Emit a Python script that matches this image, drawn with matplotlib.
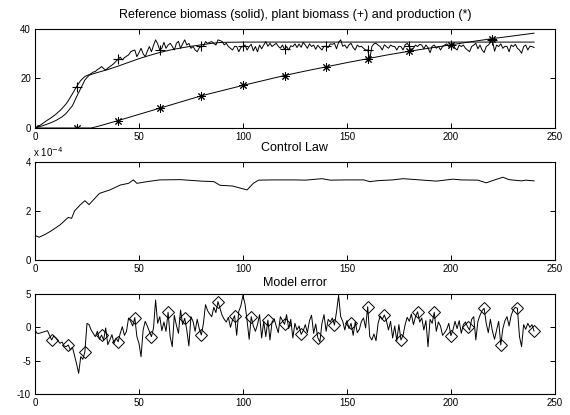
import matplotlib
matplotlib.use('Agg')
import matplotlib.pyplot as plt
import numpy as np

plt.rcParams['font.family'] = ['Liberation Sans', 'DejaVu Sans']
plt.rcParams['axes.unicode_minus'] = False

# --- panel 1: reference biomass, plant biomass, production ---
ref_x = [0, 4, 7, 10, 13, 15, 18, 20, 22, 24, 26, 28, 30, 35, 40, 45, 50, 55, 60,
         65, 70, 75, 80, 85, 90, 100, 150, 200, 240]
ref_y = [0, 1.0, 1.9, 3.0, 4.5, 5.9, 9.0, 12.6, 16.0, 19.4, 21.3, 21.9, 22.4, 23.6,
         25.0, 26.5, 28.0, 29.3, 30.5, 31.5, 32.3, 33.0, 33.6, 34.2, 34.6, 34.7,
         34.7, 34.7, 34.7]

plant = [
    0.0, 0.4, 0.9, 1.4, 2.0, 2.6, 3.2, 3.7, 4.3, 4.9,
    5.5, 6.3, 7.0, 7.9, 8.8, 9.8, 11.0, 12.4, 13.8, 15.3,
    16.7, 18.0, 19.2, 20.0, 20.8, 21.2, 21.5, 22.0, 22.6, 22.8,
    23.6, 24.1, 24.8, 24.0, 23.4, 24.2, 24.8, 25.4, 26.1, 27.0,
    27.8, 28.6, 27.5, 28.4, 29.0, 29.5, 30.8, 31.2, 31.5, 28.8,
    30.4, 32.2, 30.0, 28.8, 31.0, 32.9, 30.8, 33.4, 35.6, 34.0,
    31.5, 32.2, 34.6, 32.2, 33.5, 34.2, 33.0, 31.5, 34.2, 35.0,
    32.2, 34.0, 35.6, 33.5, 34.2, 32.2, 32.9, 31.5, 30.8, 32.4,
    33.0, 33.0, 34.9, 34.2, 34.6, 34.9, 34.2, 33.5, 35.6, 35.3,
    34.9, 33.6, 34.2, 32.9, 32.2, 31.5, 33.0, 32.9, 30.8, 32.5,
    33.0, 33.5, 31.5, 32.9, 33.8, 31.2, 32.9, 30.8, 33.5, 32.0,
    33.5, 34.9, 33.0, 34.2, 32.9, 33.6, 34.2, 33.0, 32.2, 33.5,
    31.8, 32.9, 31.5, 33.2, 32.9, 34.0, 32.5, 33.9, 32.6, 34.6,
    33.5, 32.2, 34.0, 32.9, 33.5, 31.8, 33.4, 32.4, 31.5, 33.0,
    33.0, 32.5, 34.0, 33.8, 34.2, 32.0, 34.6, 35.6, 33.0, 33.5,
    32.2, 33.6, 34.2, 32.5, 31.5, 33.5, 32.8, 33.0, 32.2, 31.5,
    31.5, 27.8, 32.9, 34.0, 34.2, 33.5, 32.9, 31.5, 33.6, 32.9,
    32.2, 33.5, 33.0, 32.9, 31.5, 33.0, 32.9, 31.5, 33.6, 34.2,
    33.0, 31.0, 32.2, 33.5, 32.9, 33.8, 33.5, 32.0, 33.5, 32.5,
    30.4, 33.0, 33.5, 32.2, 33.0, 31.5, 32.9, 33.5, 34.0, 32.9,
    33.5, 34.2, 32.2, 31.5, 33.5, 32.9, 33.5, 32.2, 31.5, 30.8,
    32.9, 33.5, 34.2, 32.0, 33.5, 31.5, 30.5, 32.9, 33.5, 34.5,
    35.5, 31.0, 33.5, 32.9, 34.0, 32.2, 33.0, 32.9, 30.8, 33.5,
    32.9, 33.8, 32.2, 31.5, 30.2, 32.9, 33.5, 31.5, 33.0, 32.9,
    32.5]

prod_x = [0, 10, 20, 27, 30, 40, 50, 60, 70, 80, 90, 100, 110, 120, 130, 140,
          150, 160, 170, 180, 190, 200, 210, 220, 230, 240]
prod_y = [0, 0, 0, 0, 0.6, 3.0, 5.5, 8.0, 10.5, 13.0, 15.1, 17.2, 19.2, 21.2,
          23.0, 24.7, 26.4, 28.0, 29.6, 31.0, 32.3, 33.6, 34.9, 36.1, 37.2, 38.3]

# --- panel 2: control law (x 1e-4) ---
ctrl_x = [0, 2, 5, 8, 12, 16, 17.6, 19, 21.6, 24, 26, 28.8, 31, 36, 41, 45, 47.3,
          49, 54, 60, 70, 80, 86, 89, 95, 102, 105, 107.5, 115, 125, 130, 138, 142,
          150, 158, 161, 165, 172, 177, 185, 193, 197, 201, 205, 213, 217, 220,
          225, 228, 234, 236, 240]
ctrl_y = [1.0, 0.93, 1.05, 1.2, 1.43, 1.74, 1.70, 2.0, 2.24, 2.42, 2.26, 2.52, 2.72,
          2.86, 3.06, 3.13, 3.27, 3.13, 3.2, 3.27, 3.28, 3.22, 3.2, 3.05, 3.02, 2.86,
          3.13, 3.26, 3.27, 3.27, 3.26, 3.32, 3.26, 3.27, 3.27, 3.20, 3.24, 3.27,
          3.32, 3.27, 3.22, 3.26, 3.30, 3.27, 3.26, 3.15, 3.24, 3.38, 3.28, 3.23,
          3.26, 3.23]

# --- panel 3: model error ---
err = [
    -0.4, -0.9, -0.9, -0.8, -0.7, -0.6, -0.5, -1.2, -1.9, -1.3,
    -1.6, -2.0, -2.4, -2.2, -2.8, -2.9, -2.65, -3.4, -3.0, -4.2,
    -5.5, -6.9, -4.4, -4.8, -3.65, 0.6, 0.4, -0.4, -0.9, -1.4,
    -0.6, -1.8, -1.15, -1.9, -0.1, -2.6, -1.9, -1.1, -2.4, -1.6,
    -2.15, -0.9, 0.1, -1.2, -0.6, 1.4, 0.9, 0.2, 1.45, -1.4,
    -2.4, -4.4, -0.4, 0.9, 0.2, -0.6, -1.4, -0.1, 4.1, 0.6,
    1.6, -0.5, 0.8, -0.6, 2.25, -1.4, -2.9, 1.8, 0.3, -0.9,
    2.6, 0.4, 1.35, -0.4, -2.8, 1.6, 0.9, -0.6, 1.2, -0.2,
    -1.15, 0.6, 3.4, 2.5, 2.0, 1.6, 3.0, 2.2, 3.85, 2.8,
    1.8, 1.2, 0.8, 1.5, 0.0, 1.1, 1.75, -1.2, 2.4, 3.2,
    4.8, 3.5, 1.0, -1.8, 1.6, 0.2, -0.6, 0.4, 1.9, -1.6,
    0.9, -1.4, 1.1, -1.9, 0.8, 1.3, 0.2, -0.8, 1.6, 1.0,
    0.45, 1.9, -0.2, 1.2, -1.6, 0.6, -0.4, 0.2, -1.05, -0.5,
    0.4, -0.8, 1.0, 1.8, -0.9, 0.5, -1.55, -2.2, 0.6, 1.9,
    -0.6, 1.2, 0.8, 1.4, 0.35, 2.3, 4.8, 1.6, 0.9, -0.4,
    1.0, -0.2, 0.6, -1.2, 0.8, -0.8, -0.3, 0.9, 1.4, -0.1,
    3.1, -1.4, -1.9, -1.0, -2.0, 0.6, 1.7, 1.2, 1.85, 1.0,
    -0.4, 0.9, -1.6, 0.2, -2.0, 0.4, -1.9, -1.2, 0.4, 1.5,
    0.9, 2.0, 0.4, 1.6, 2.35, 0.8, 1.4, -0.4, 1.0, -2.9,
    1.2, 0.6, 2.25, -0.6, 0.8, 0.2, -1.2, -0.8, -0.3, 0.6,
    -1.25, -0.4, 0.9, -0.2, 1.0, -0.9, 0.4, 0.8, 0.1, -0.4,
    1.2, 1.6, -1.9, 0.9, 1.8, 2.5, 2.85, 0.6, -0.8, 1.2,
    -0.6, -1.8, -0.4, 0.9, -2.65, -0.2, 1.0, 1.6, 0.2, 1.8,
    2.6, 3.0, 2.85, -1.4, -2.9, 0.4, -0.3, 0.6, 0.0, 0.4,
    -0.55]

xticks = [0, 50, 100, 150, 200, 250]

fig = plt.figure(figsize=(5.7, 4.15), dpi=100)
ax1 = fig.add_axes([0.0614, 0.6916, 0.912, 0.2386])
ax2 = fig.add_axes([0.0614, 0.3735, 0.912, 0.2361])
ax3 = fig.add_axes([0.0614, 0.0506, 0.912, 0.2410])

asterisk = (8, 2, 0)
lw = 0.7

t = np.arange(len(plant))
ax1.plot(ref_x, ref_y, color='k', lw=lw)
ax1.plot(t, plant, color='k', lw=lw)
ax1.plot(t[0:221:20], np.array(plant)[0:221:20], linestyle='none', marker='+',
         color='k', ms=7, mew=0.8)
px = np.array(prod_x)
py = np.array(prod_y)
mk = (px % 20 == 0) & (px <= 220)
ax1.plot(px, py, color='k', lw=lw)
ax1.plot(px[mk], py[mk], linestyle='none', marker=asterisk, color='k', ms=6, mew=0.7)
ax1.set_ylim(0, 40)
ax1.set_yticks([0, 20, 40])
ax1.set_title('Reference biomass (solid), plant biomass (+) and production (*)',
              fontsize=9, pad=8)

ax2.plot(ctrl_x, ctrl_y, color='k', lw=lw)
ax2.set_ylim(0, 4)
ax2.set_yticks([0, 2, 4])
ax2.set_title('Control Law', fontsize=9, pad=8)
ax2.text(-0.003, 1.035, r'x 10$^{-4}$', transform=ax2.transAxes, fontsize=7,
         ha='left', va='bottom')

te = np.arange(len(err))
ax3.plot(te, err, color='k', lw=lw)
ax3.plot(te[8::8], np.array(err)[8::8], linestyle='none', marker='D', ms=6,
         mfc='none', mec='k', mew=0.7)
ax3.set_ylim(-10, 5)
ax3.set_yticks([-10, -5, 0, 5])
ax3.set_title('Model error', fontsize=9, pad=6)

for ax in (ax1, ax2, ax3):
    ax.set_xlim(0, 250)
    ax.set_xticks(xticks)
    ax.tick_params(direction='in', top=True, right=True, length=3.5, width=0.7,
                   labelsize=7, pad=3)
    for s in ax.spines.values():
        s.set_linewidth(0.8)

fig.savefig('out.png', dpi=100, facecolor='white')
